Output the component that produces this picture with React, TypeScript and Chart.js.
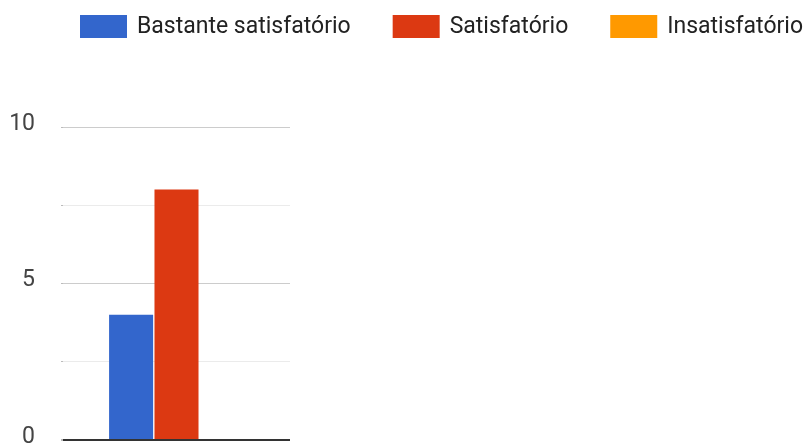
import React, { useEffect, useRef } from "react";
import { Chart, registerables } from "chart.js";

Chart.register(...registerables);

const categories = [""];
const seriesLabels = ["Bastante satisfatório", "Satisfatório", "Insatisfatório"];
const bastanteValues = [4];
const satisfatorioValues = [8];
const insatisfatorioValues = [0];
const seriesColors = ["#3366cc", "#dc3912", "#ff9900"];
const yMin = 0;
const yMax = 10;
const yStep = 2.5;
const yLabelEvery = 5;

const FONT = "Roboto, 'Liberation Sans', Arial, sans-serif";

const legendPlugin = {
  id: "customLegend",
  afterDraw(chart: any) {
    const ctx = chart.ctx;
    ctx.save();
    ctx.font = `23px ${FONT}`;
    ctx.textBaseline = "middle";
    ctx.textAlign = "left";
    let x = 80;
    const top = 15;
    const boxW = 47;
    const boxH = 23;
    chart.data.datasets.forEach((ds: any) => {
      ctx.fillStyle = ds.backgroundColor;
      ctx.fillRect(x, top, boxW, boxH);
      ctx.fillStyle = "#222222";
      const tx = x + boxW + 10;
      ctx.fillText(ds.label, tx, top + boxH / 2 + 1);
      x = tx + ctx.measureText(ds.label).width + 42;
    });
    ctx.restore();
  },
};

export default function App() {
  const ref = useRef<HTMLCanvasElement | null>(null);

  useEffect(() => {
    if (!ref.current) return;
    const chart = new Chart(ref.current, {
      type: "bar",
      data: {
        labels: categories,
        datasets: [
          { label: seriesLabels[0], data: bastanteValues, backgroundColor: seriesColors[0] },
          { label: seriesLabels[1], data: satisfatorioValues, backgroundColor: seriesColors[1] },
          { label: seriesLabels[2], data: insatisfatorioValues, backgroundColor: seriesColors[2] },
        ],
      },
      options: {
        responsive: false,
        animation: false,
        layout: { padding: { top: 127, right: 518, bottom: 4, left: 0 } },
        datasets: {
          bar: { categoryPercentage: 0.6, barPercentage: 0.97, borderWidth: 0 },
        },
        plugins: {
          legend: { display: false },
          tooltip: { enabled: false },
        },
        scales: {
          x: {
            display: false,
          },
          y: {
            min: yMin,
            max: yMax,
            border: { display: false },
            afterFit(scale: any) {
              scale.width = 63;
              scale.paddingTop = 0;
              scale.paddingBottom = 0;
            },
            grid: {
              tickLength: 2,
              color: (c: any) =>
                c.tick && c.tick.value === 0
                  ? "#333333"
                  : c.tick && c.tick.value % yLabelEvery === 0
                  ? "#cccccc"
                  : "#ebebeb",
              lineWidth: (c: any) => (c.tick && c.tick.value === 0 ? 2 : 1),
              tickColor: "#bbbbbb",
            },
            ticks: {
              stepSize: yStep,
              padding: 26,
              labelOffset: -3,
              color: "#444444",
              font: { family: FONT, size: 23 },
              callback: (v: any) => (Number(v) % yLabelEvery === 0 ? String(v) : ""),
            },
          },
        },
      },
      plugins: [legendPlugin],
    });
    return () => chart.destroy();
  }, []);

  return (
    <div style={{ position: "absolute", left: 0, top: 0, width: 808, height: 444, background: "#ffffff" }}>
      <canvas ref={ref} width={808} height={444} />
    </div>
  );
}
